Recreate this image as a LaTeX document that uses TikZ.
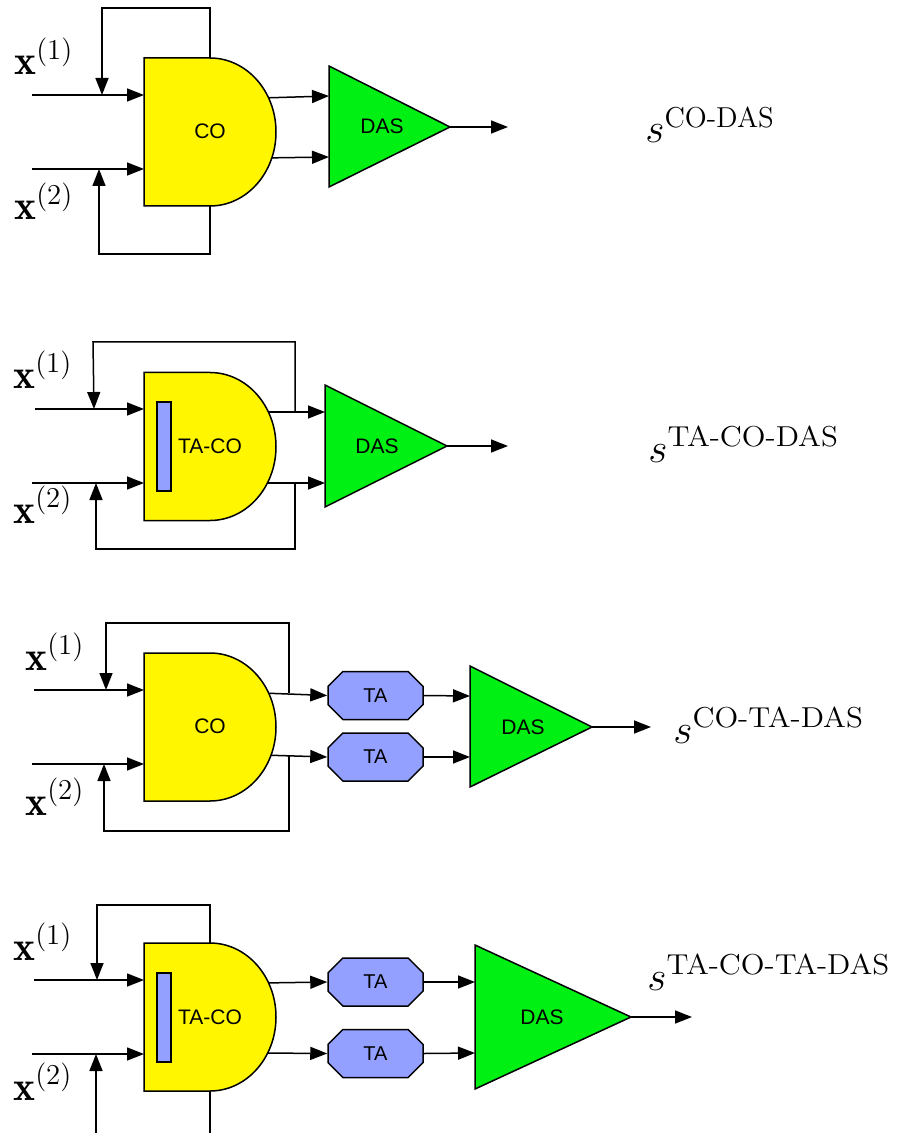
\documentclass[tikz,border=0pt]{standalone}
\usepackage{amsmath}
\usepackage{graphicx}
\usepackage{fontspec}
\newfontfamily\hv{Liberation Sans}
\usetikzlibrary{arrows.meta,shapes.misc}
\definecolor{gateyellow}{RGB}{255,246,0}
\definecolor{dasgreen}{RGB}{0,240,20}
\definecolor{tablue}{RGB}{148,160,255}
\newcommand{\wsup}[1]{\text{\scalebox{1.08}[1]{#1}}}
\tikzset{
  wire/.style={line width=0.75pt},
  arr/.style={wire,-{Triangle[length=8.5pt,width=6.5pt]}},
  gatefill/.style={fill=gateyellow,draw=black,line width=0.75pt},
  dasfill/.style={fill=dasgreen,draw=black,line width=0.75pt,line join=miter},
  inner/.style={fill=tablue,draw=black,line width=0.75pt},
  tabox/.style={chamfered rectangle,chamfered rectangle xsep=4pt,chamfered rectangle ysep=4pt,
    fill=tablue,draw=black,line width=0.75pt,minimum width=47.5pt,minimum height=24pt,inner sep=0pt,
    font=\fontsize{10}{12}\selectfont\hv},
  blocklab/.style={inner sep=0pt,font=\fontsize{10.5}{12}\selectfont\hv},
  mathlab/.style={inner sep=0pt,anchor=base west,font=\huge},
  gate/.pic={
    \path[gatefill] (0,-74) -- (66,-74) .. controls (102.45,-74) and (132,-40.87) .. (132,0)
      .. controls (132,40.87) and (102.45,74) .. (66,74) -- (0,74) -- cycle;
    \coordinate (-top) at (66,-74);
    \coordinate (-bot) at (66,74);
  }
}
\begin{document}
\begin{tikzpicture}[x=0.5pt,y=-0.5pt]
\useasboundingbox (0,0) rectangle (896,1133);
\clip (0,0) rectangle (896,1133);

% ================= Panel 1 =================
\coordinate (a1s) at (32,95);   \coordinate (a1e) at (144,95);
\coordinate (a2s) at (32,169);  \coordinate (a2e) at (144,169);
\coordinate (ao1) at (262,98);  \coordinate (ad1) at (329,96);
\coordinate (ao2) at (262,158); \coordinate (ad2) at (329,157);
\coordinate (adas) at (450,127); \coordinate (aend) at (508,127);
\draw[arr] (a1s) -- (a1e);
\draw[arr] (a2s) -- (a2e);
\draw[arr] (ao1) -- (ad1);
\draw[arr] (ao2) -- (ad2);
\pic (g1) at (144,132) {gate};
\draw[arr] (g1-top) -- (210,8) -- (102,8) -- (102,95);
\draw[arr] (g1-bot) -- (210,254) -- (99,254) -- (99,169);
\path[dasfill] (329,66) -- (adas) -- (329,187) -- cycle;
\draw[arr] (adas) -- (aend);
\node[blocklab] (co1) at (210,131) {CO};
\node[blocklab] (das1) at (382,126) {DAS};
\node[mathlab] (ax1) at (14,75) {$\mathbf{x}^{(1)}$};
\node[mathlab] (ax2) at (14,220) {$\mathbf{x}^{(2)}$};
\node[mathlab] (as) at (645,143) {$s^{\text{CO-DAS}}$};

% ================= Panel 2 =================
\coordinate (b1s) at (35,409);  \coordinate (b1e) at (144,409);
\coordinate (b2s) at (32,483);  \coordinate (b2e) at (144,483);
\coordinate (bo1) at (262,412); \coordinate (bd1) at (325,412);
\coordinate (bo2) at (262,483); \coordinate (bd2) at (325,483);
\coordinate (bf1) at (295,412); \coordinate (bf2) at (295,483);
\coordinate (bdas) at (447,446); \coordinate (bend) at (508,446);
\draw[arr] (b1s) -- (b1e);
\draw[arr] (b2s) -- (b2e);
\draw[arr] (bo1) -- (bd1);
\draw[arr] (bo2) -- (bd2);
\draw[arr] (bf1) -- (295,342) -- (93,342) -- (94,409);
\draw[arr] (bf2) -- (295,549) -- (96,549) -- (96,483);
\pic (g2) at (144,446.5) {gate};
\path[inner] (157,402) rectangle (171,491);
\path[dasfill] (325,385) -- (bdas) -- (325,507) -- cycle;
\draw[arr] (bdas) -- (bend);
\node[blocklab] (co2) at (210,446) {TA-CO};
\node[blocklab] (das2) at (377,446) {DAS};
\node[mathlab] (bx1) at (13,388) {$\mathbf{x}^{(1)}$};
\node[mathlab] (bx2) at (13,523) {$\mathbf{x}^{(2)}$};
\node[mathlab] (bs) at (648,462) {$s^{\wsup{TA-CO-DAS}}$};

% ================= Panel 3 =================
\coordinate (c1s) at (34,690);  \coordinate (c1e) at (144,690);
\coordinate (c2s) at (32,764);  \coordinate (c2e) at (144,764);
\coordinate (co1p) at (262,693); \coordinate (co2p) at (262,755);
\coordinate (cf1) at (289,693); \coordinate (cf2) at (289,755);
\node[tabox] (cta1) at (375.5,695.5) {TA};
\node[tabox] (cta2) at (375.5,757) {TA};
\coordinate (cd1) at (470,696); \coordinate (cd2) at (470,757);
\coordinate (cdas) at (592,727); \coordinate (cend) at (651,727);
\draw[arr] (c1s) -- (c1e);
\draw[arr] (c2s) -- (c2e);
\draw[arr] (co1p) -- (cta1.west);
\draw[arr] (co2p) -- (cta2.west);
\draw[arr] (cf1) -- (289,623) -- (106,623) -- (106,690);
\draw[arr] (cf2) -- (289,831) -- (104,831) -- (104,764);
\pic (g3) at (144,727) {gate};
\draw[arr] (cta1.east) -- (cd1);
\draw[arr] (cta2.east) -- (cd2);
\path[dasfill] (470,666) -- (cdas) -- (470,787) -- cycle;
\draw[arr] (cdas) -- (cend);
\node[blocklab] (co3) at (210,726) {CO};
\node[blocklab] (das3) at (523,727) {DAS};
\node[mathlab] (cx1) at (25,670) {$\mathbf{x}^{(1)}$};
\node[mathlab] (cx2) at (25,815) {$\mathbf{x}^{(2)}$};
\node[mathlab] (cs) at (673,743) {$s^{\wsup{CO-TA-DAS}}$};

% ================= Panel 4 =================
\coordinate (d1s) at (34,980);  \coordinate (d1e) at (144,980);
\coordinate (d2s) at (32,1054); \coordinate (d2e) at (144,1054);
\coordinate (do1) at (262,983); \coordinate (do2) at (262,1053);
\node[tabox] (dta1) at (375.5,982) {TA};
\node[tabox] (dta2) at (375.5,1053.5) {TA};
\coordinate (dd1) at (475,982); \coordinate (dd2) at (475,1053);
\coordinate (ddas) at (631,1017); \coordinate (dend) at (692,1017);
\draw[arr] (d1s) -- (d1e);
\draw[arr] (d2s) -- (d2e);
\draw[arr] (do1) -- (dta1.west);
\draw[arr] (do2) -- (dta2.west);
\pic (g4) at (144,1017) {gate};
\draw[arr] (g4-top) -- (210,905) -- (97,905) -- (97,980);
\draw[arr] (g4-bot) -- (210,1160) -- (96,1160) -- (96,1054);
\path[inner] (157,973) rectangle (171,1062);
\draw[arr] (dta1.east) -- (dd1);
\draw[arr] (dta2.east) -- (dd2);
\path[dasfill] (475,945) -- (ddas) -- (475,1089) -- cycle;
\draw[arr] (ddas) -- (dend);
\node[blocklab] (co4) at (210,1017) {TA-CO};
\node[blocklab] (das4) at (542,1017) {DAS};
\node[mathlab] (dx1) at (13,960) {$\mathbf{x}^{(1)}$};
\node[mathlab] (dx2) at (13,1100) {$\mathbf{x}^{(2)}$};
\node[mathlab] (ds) at (647,990) {$s^{\wsup{TA-CO-TA-DAS}}$};
\end{tikzpicture}
\end{document}
